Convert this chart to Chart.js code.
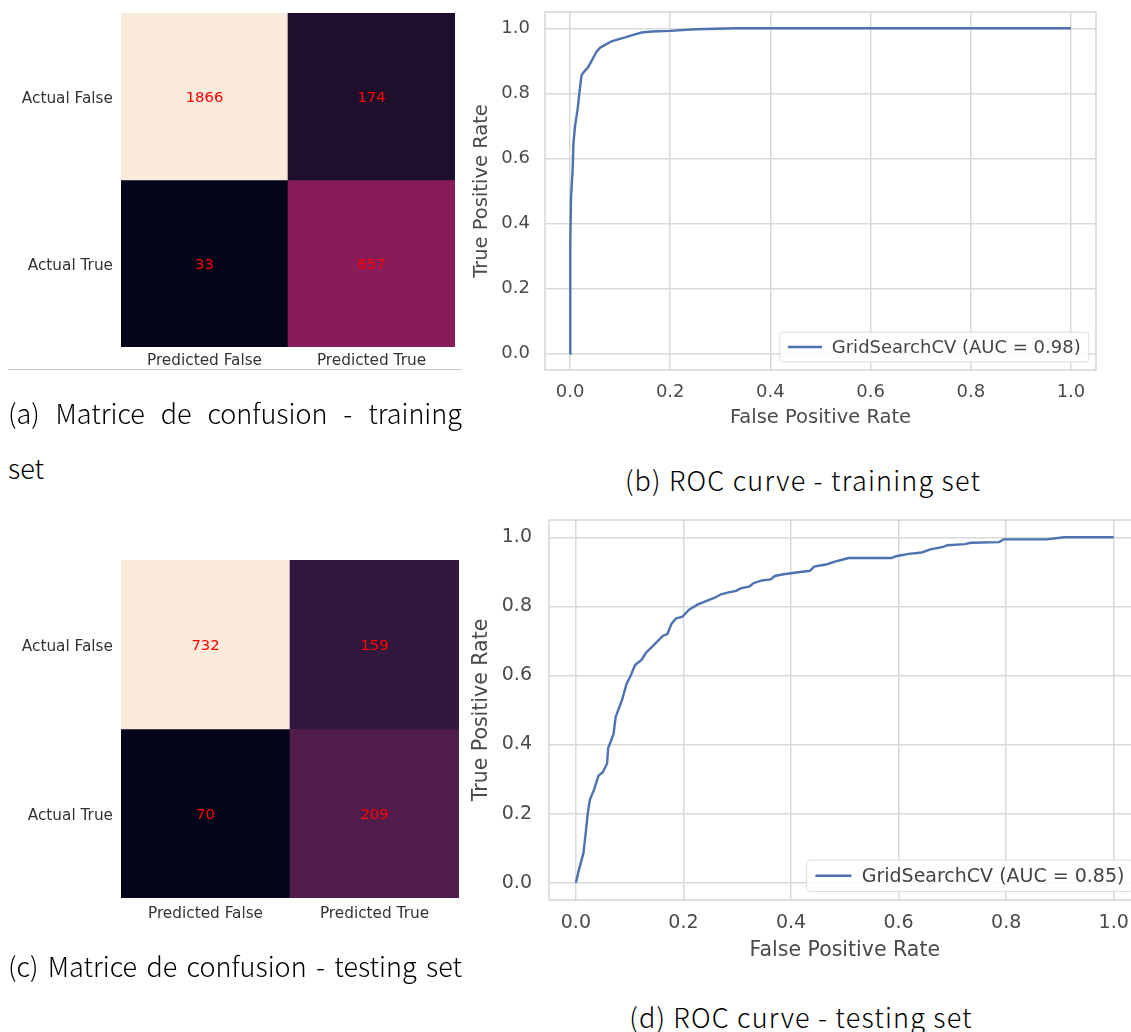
<!DOCTYPE html>
<html>
<head>
<meta charset="utf-8">
<script src="https://cdn.jsdelivr.net/npm/chart.js@4.4.1/dist/chart.umd.min.js"></script>
<style>
  html, body { margin: 0; padding: 0; background: #fff; overflow: hidden; }
  body { width: 1131px; height: 1032px; position: relative; }
  canvas, .cap, .rule { position: absolute; }
  .cap { font-family: 'Noto Sans CJK KR', 'Noto Sans', sans-serif; font-size: 27px; font-weight: 300; color: #000; white-space: nowrap; line-height: 30px; }
  .just { text-align: justify; text-align-last: justify; white-space: normal; }
  .wide { letter-spacing: 1.2px; text-align: center; width: 406px; }
</style>
</head>
<body>
<canvas id="cmTrain" width="470" height="380" style="left:0;top:0"></canvas>
<div class="rule" style="left:8px;top:369px;width:454px;height:1px;background:#c8c8c8"></div>
<canvas id="rocTrain" width="671" height="440" style="left:460px;top:0"></canvas>
<div class="cap just" style="left:8px;top:398px;width:454px">(a) Matrice de confusion - training</div>
<div class="cap" style="left:8px;top:453px">set</div>
<div class="cap wide" style="left:600px;top:465px">(b) ROC curve - training set</div>

<canvas id="cmTest" width="470" height="400" style="left:0;top:540px"></canvas>
<canvas id="rocTest" width="700" height="480" style="left:460px;top:500px"></canvas>
<div class="cap just" style="left:8px;top:951px;width:454px">(c) Matrice de confusion - testing set</div>
<div class="cap wide" style="left:598px;top:1002px">(d) ROC curve - testing set</div>

<script>
// confusion matrices
const cmRows = ['Actual False', 'Actual True'];
const cmCols = ['Predicted False', 'Predicted True'];
const cmTrainValues = [[1866, 174], [33, 657]];
const cmTestValues = [[732, 159], [70, 209]];

// ROC curves
const rocTicks = [0, 0.2, 0.4, 0.6, 0.8, 1.0];
const fprTrain = [0, 0, 0.001, 0.002, 0.005, 0.007, 0.01, 0.015, 0.02, 0.023, 0.03, 0.036, 0.043, 0.053, 0.06, 0.07, 0.083, 0.096, 0.11, 0.126, 0.143, 0.163, 0.2, 0.25, 0.33, 1.0];
const tprTrain = [0, 0.13, 0.34, 0.48, 0.56, 0.65, 0.70, 0.75, 0.82, 0.856, 0.87, 0.88, 0.90, 0.928, 0.94, 0.949, 0.96, 0.966, 0.972, 0.98, 0.987, 0.99, 0.992, 0.997, 1.0, 1.0];
const fprTest = [0, 0.006, 0.014, 0.018, 0.022, 0.026, 0.034, 0.042, 0.05, 0.058, 0.06, 0.07, 0.074, 0.086, 0.094, 0.102, 0.11, 0.122, 0.13, 0.146, 0.162, 0.17, 0.178, 0.186, 0.198, 0.21, 0.226, 0.242, 0.258, 0.27, 0.282, 0.298, 0.306, 0.322, 0.33, 0.346, 0.362, 0.37, 0.386, 0.41, 0.435, 0.443, 0.467, 0.483, 0.495, 0.507, 0.587, 0.595, 0.619, 0.643, 0.659, 0.683, 0.691, 0.723, 0.735, 0.787, 0.795, 0.875, 0.908, 1.0];
const tprTest = [0, 0.04, 0.085, 0.14, 0.2, 0.24, 0.27, 0.31, 0.32, 0.345, 0.39, 0.43, 0.48, 0.53, 0.575, 0.6, 0.63, 0.645, 0.665, 0.69, 0.715, 0.72, 0.75, 0.765, 0.77, 0.79, 0.805, 0.815, 0.825, 0.835, 0.84, 0.845, 0.852, 0.857, 0.867, 0.875, 0.878, 0.888, 0.893, 0.898, 0.903, 0.915, 0.922, 0.93, 0.935, 0.94, 0.94, 0.945, 0.952, 0.956, 0.965, 0.972, 0.977, 0.98, 0.984, 0.986, 0.994, 0.994, 1.0, 1.0];

Chart.defaults.font.family = '"DejaVu Sans", sans-serif';

// seaborn "rocket" colormap, coarse stops
const rocketStops = ['#03051a', '#35193e', '#701f57', '#ad1759', '#e13342', '#f37651', '#f6b48f', '#faebdd'];
function hexRgb(h) { return [1, 3, 5].map(k => parseInt(h.substr(k, 2), 16)); }
function rocket(t) {
  t = Math.max(0, Math.min(1, t));
  const pos = t * (rocketStops.length - 1);
  const i = Math.min(Math.floor(pos), rocketStops.length - 2);
  const f = pos - i;
  const a = hexRgb(rocketStops[i]), b = hexRgb(rocketStops[i + 1]);
  const c = a.map((v, k) => Math.round(v + (b[k] - v) * f));
  return 'rgb(' + c.join(',') + ')';
}

// no extra room for first/last tick labels, layout padding decides the plot box
function noPad(s) { s.paddingTop = 0; s.paddingBottom = 0; s.paddingLeft = 0; s.paddingRight = 0; }

const cellText = {
  id: 'cellText',
  afterDatasetsDraw(chart, args, opts) {
    const ctx = chart.ctx;
    ctx.save();
    ctx.font = '14.8px "DejaVu Sans"';
    ctx.fillStyle = '#ff0000';
    ctx.textAlign = 'center';
    ctx.textBaseline = 'middle';
    chart.data.datasets.forEach((ds, i) => {
      chart.getDatasetMeta(i).data.forEach((bar, j) => {
        const c = bar.getCenterPoint();
        ctx.fillText(String(opts.values[i][j]), c.x, c.y + 1.5);
      });
    });
    ctx.restore();
  }
};

const rocFrame = {
  id: 'rocFrame',
  beforeDatasetsDraw(chart) {
    const {ctx, chartArea: a} = chart;
    ctx.save();
    ctx.strokeStyle = '#d6d6d6';
    ctx.lineWidth = 1.5;
    ctx.strokeRect(a.left, a.top, a.right - a.left, a.bottom - a.top);
    ctx.restore();
  },
  afterDatasetsDraw(chart, args, opts) {
    // legend in the lower right corner, like matplotlib
    const {ctx, chartArea: a} = chart;
    const ds = chart.data.datasets[0];
    const fs = opts.fontSize;
    ctx.save();
    ctx.font = fs + 'px "DejaVu Sans"';
    const tw = ctx.measureText(ds.label).width;
    const lineLen = fs * 1.9, pad = fs * 0.45;
    const w = pad + lineLen + pad * 1.2 + tw + pad;
    const h = fs * 1.65;
    const x = a.right - fs * 0.4 - w;
    const y = a.bottom - fs * 0.45 - h;
    ctx.fillStyle = 'rgba(255,255,255,0.85)';
    ctx.strokeStyle = '#dcdcdc';
    ctx.lineWidth = 1;
    ctx.beginPath();
    ctx.roundRect(x, y, w, h, 3);
    ctx.fill();
    ctx.stroke();
    ctx.strokeStyle = ds.borderColor;
    ctx.lineWidth = ds.borderWidth;
    ctx.beginPath();
    ctx.moveTo(x + pad, y + h / 2);
    ctx.lineTo(x + pad + lineLen, y + h / 2);
    ctx.stroke();
    ctx.fillStyle = '#444';
    ctx.textBaseline = 'middle';
    ctx.fillText(ds.label, x + pad + lineLen + pad * 1.2, y + h / 2 + 1);
    ctx.restore();
  }
};

function cmChart(id, matrix, o) {
  const flat = matrix.flat();
  const lo = Math.min(...flat), hi = Math.max(...flat);
  const n = cmRows.length;
  return new Chart(document.getElementById(id), {
    type: 'bar',
    data: {
      labels: cmCols,
      datasets: cmRows.map((row, i) => ({
        label: row,
        data: matrix[i].map(() => [n - 1 - i, n - i]),
        backgroundColor: matrix[i].map(v => rocket((v - lo) / (hi - lo))),
        borderWidth: 0,
        grouped: false,
        barPercentage: 1,
        categoryPercentage: 1
      }))
    },
    options: {
      responsive: false,
      animation: false,
      layout: {padding: o.pad},
      plugins: {legend: {display: false}, tooltip: {enabled: false}, cellText: {values: matrix}},
      scales: {
        x: {
          grid: {display: false, drawTicks: false},
          border: {display: false},
          ticks: {font: {size: 15.3}, color: '#333', padding: o.xp},
          afterFit: s => { noPad(s); s.height = o.xh; }
        },
        y: {
          min: 0, max: n,
          grid: {display: false, drawTicks: false},
          border: {display: false},
          afterBuildTicks: s => { s.ticks = cmRows.map((r, i) => ({value: n - 0.5 - i})); },
          ticks: {font: {size: 15.3}, color: '#333', padding: 8, labelOffset: 2.5, callback: v => cmRows[Math.round(n - 0.5 - v)]},
          afterFit: s => { noPad(s); s.width = 121; }
        }
      }
    },
    plugins: [cellText]
  });
}

function rocChart(id, fpr, tpr, label, o) {
  const axisColor = '#4a4a4a';
  return new Chart(document.getElementById(id), {
    type: 'scatter',
    data: {
      datasets: [{
        label: label,
        data: fpr.map((x, i) => ({x: x, y: tpr[i]})),
        showLine: true,
        borderColor: '#4c72b0',
        borderWidth: 2.4,
        pointRadius: 0,
        tension: 0
      }]
    },
    options: {
      responsive: false,
      animation: false,
      layout: {padding: o.pad},
      plugins: {legend: {display: false}, tooltip: {enabled: false}, rocFrame: {fontSize: o.fs}},
      scales: {
        x: {
          type: 'linear', min: -0.05, max: 1.05,
          afterBuildTicks: s => { s.ticks = rocTicks.map(v => ({value: v})); },
          afterFit: s => { noPad(s); s.height = o.xh; },
          ticks: {callback: v => v.toFixed(1), font: {size: o.fs}, color: axisColor, padding: 12, maxRotation: 0},
          grid: {color: '#d9d9d9', lineWidth: 1.5, drawTicks: false},
          border: {display: false},
          title: {display: true, text: 'False Positive Rate', font: {size: o.ts}, color: axisColor, padding: {top: 0, bottom: o.xtp}}
        },
        y: {
          min: -0.05, max: 1.05,
          afterBuildTicks: s => { s.ticks = rocTicks.map(v => ({value: v})); },
          afterFit: s => { noPad(s); s.width = o.yw; },
          ticks: {callback: v => v.toFixed(1), font: {size: o.fs}, color: axisColor, padding: o.yp},
          grid: {color: '#d9d9d9', lineWidth: 1.5, drawTicks: false},
          border: {display: false},
          title: {display: true, text: 'True Positive Rate', font: {size: o.ts}, color: axisColor, padding: {top: o.ytp, bottom: 0}}
        }
      }
    },
    plugins: [rocFrame]
  });
}

cmChart('cmTrain', cmTrainValues, {pad: {left: 0, top: 13, right: 15, bottom: 0}, xh: 33, xp: 5});
cmChart('cmTest', cmTestValues, {pad: {left: 0, top: 20, right: 11, bottom: 0}, xh: 42, xp: 7});

rocChart('rocTrain', fprTrain, tprTrain, 'GridSearchCV (AUC = 0.98)',
  {pad: {left: 0, top: 12, right: 35, bottom: 0}, yw: 85, xh: 70, fs: 18, ts: 19.5, yp: 15, xtp: 10, ytp: 10});
rocChart('rocTest', fprTest, tprTest, 'GridSearchCV (AUC = 0.85)',
  {pad: {left: 0, top: 20, right: 19.4, bottom: 0}, yw: 89, xh: 80, fs: 19, ts: 20.5, yp: 17, xtp: 17.5, ytp: 9.5});
</script>
</body>
</html>
